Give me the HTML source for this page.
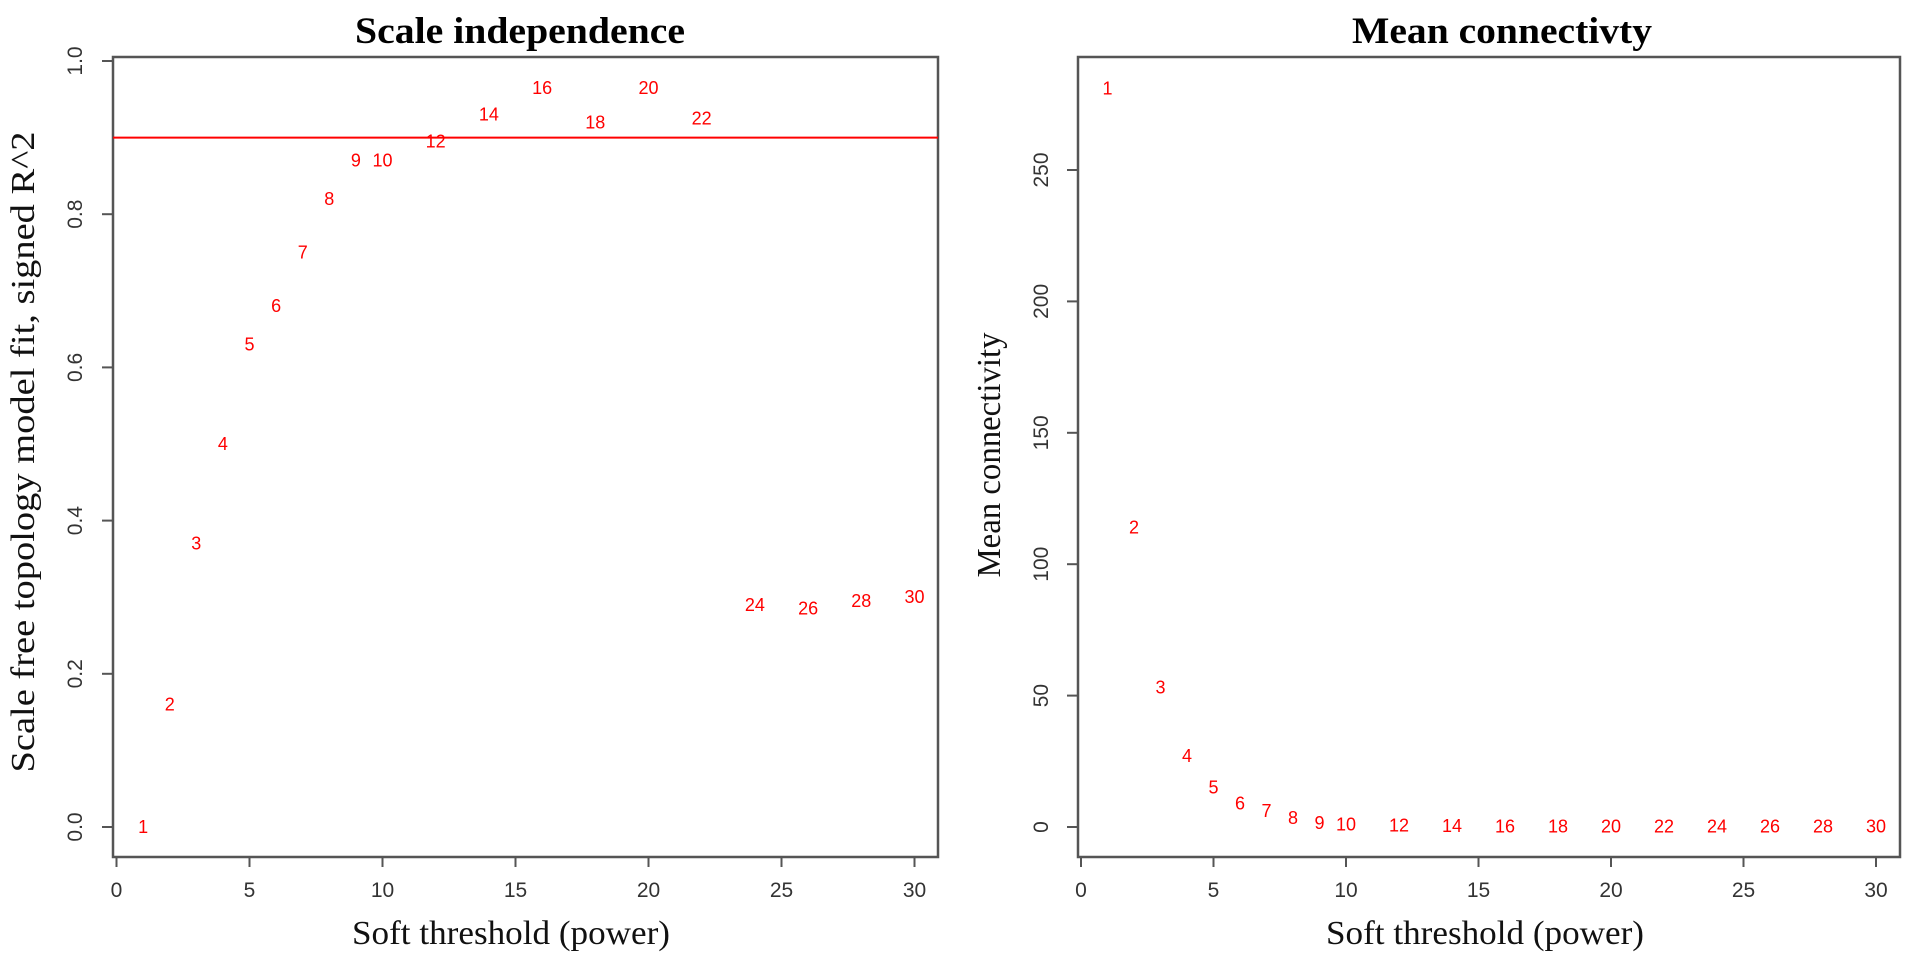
<!DOCTYPE html>
<html><head><meta charset="utf-8"><style>
body{margin:0;background:#fff;}
svg{display:block;}
.tick{font-family:"Liberation Sans",sans-serif;font-size:21px;fill:#333;}
.pt{font-family:"Liberation Sans",sans-serif;font-size:18px;fill:#f00;}
.ttl{font-family:"Liberation Serif",serif;font-size:37px;font-weight:bold;fill:#000;}
.lab{font-family:"Liberation Serif",serif;font-size:34px;fill:#111;}
</style></head><body>
<svg id="chart" width="1913" height="970">
<text class="ttl" x="520" y="43" text-anchor="middle" textLength="330" lengthAdjust="spacingAndGlyphs">Scale independence</text>
<text class="ttl" x="1502" y="43" text-anchor="middle" textLength="300" lengthAdjust="spacingAndGlyphs">Mean connectivty</text>
<text class="lab" x="511" y="944" text-anchor="middle" textLength="318" lengthAdjust="spacingAndGlyphs">Soft threshold (power)</text>
<text class="lab" x="1485" y="944" text-anchor="middle" textLength="318" lengthAdjust="spacingAndGlyphs">Soft threshold (power)</text>
<text class="lab" transform="translate(34,452) rotate(-90)" text-anchor="middle" textLength="641" lengthAdjust="spacingAndGlyphs">Scale free topology model fit, signed R^2</text>
<text class="lab" transform="translate(1000,455) rotate(-90)" text-anchor="middle" textLength="245" lengthAdjust="spacingAndGlyphs">Mean connectivity</text>
</svg>
<script>
const powers = [1,2,3,4,5,6,7,8,9,10,12,14,16,18,20,22,24,26,28,30];
const rsq = [0,0.16,0.37,0.50,0.63,0.68,0.75,0.82,0.87,0.87,0.895,0.93,0.965,0.92,0.965,0.925,0.29,0.285,0.295,0.30];
const meanK = [281,114,53,27,15,9,6,3.5,1.5,1,0.5,0.3,0.2,0.1,0.1,0.1,0.1,0.1,0.1,0.1];
const xTicks = [0,5,10,15,20,25,30];
const leftYTicks = [0,0.2,0.4,0.6,0.8,1.0];
const leftYLabels = ["0.0","0.2","0.4","0.6","0.8","1.0"];
const rightYTicks = [0,50,100,150,200,250];
const cutoff = [0.9];

const svg = document.getElementById('chart');
const NS = 'http://www.w3.org/2000/svg';
function mk(tag, attrs, parent){const e=document.createElementNS(NS,tag);for(const k in attrs)e.setAttribute(k,attrs[k]);(parent||svg).appendChild(e);return e;}

function panel(cfg){
  const xS = v => cfg.x0 + v*cfg.xk;
  const yS = v => cfg.y0 - v*cfg.yk;
  const g = mk('g',{});
  
  
  const box = mk('rect',{x:cfg.bx0,y:57,width:cfg.bx1-cfg.bx0,height:800,fill:'none',stroke:'#555','stroke-width':2.5},g);
  
  
  xTicks.forEach(t=>{
    const x=xS(t);
    mk('line',{x1:x,x2:x,y1:857,y2:867,stroke:'#555','stroke-width':2},g);
    const tx=mk('text',{x:x,y:897,'text-anchor':'middle',class:'tick'},g);
    tx.textContent=t;
    
    
  });
  cfg.yTicks.forEach((t,i)=>{
    const y=yS(t);
    mk('line',{x1:cfg.bx0,x2:cfg.bx0-11,y1:y,y2:y,stroke:'#555','stroke-width':2},g);
    const tx=mk('text',{transform:`translate(${cfg.ylx},${y}) rotate(-90)`,'text-anchor':'middle',class:'tick'},g);
    tx.textContent=cfg.yLabels[i];
    
    
  });
  if(cfg.hline!==undefined){
    const l=mk('line',{x1:cfg.bx0,x2:cfg.bx1,y1:yS(cfg.hline),y2:yS(cfg.hline),stroke:'#f00','stroke-width':2},g);
    
    
  }
  powers.forEach((p,i)=>{
    const t=mk('text',{x:xS(p),y:yS(cfg.vals[i])+6,'text-anchor':'middle',class:'pt'},g);
    t.textContent=p;
    
    
  });
}
panel({name:'scale-independence-plot',x0:116.5,xk:26.6,y0:827,yk:766,bx0:113,bx1:938,ylx:82,yTicks:leftYTicks,yLabels:leftYLabels,vals:rsq,hline:cutoff[0]});
panel({name:'mean-connectivity-plot',x0:1081,xk:26.5,y0:827,yk:657/250,bx0:1078,bx1:1900,ylx:1048,yTicks:rightYTicks,yLabels:rightYTicks.map(String),vals:meanK});
</script>
</body></html>
